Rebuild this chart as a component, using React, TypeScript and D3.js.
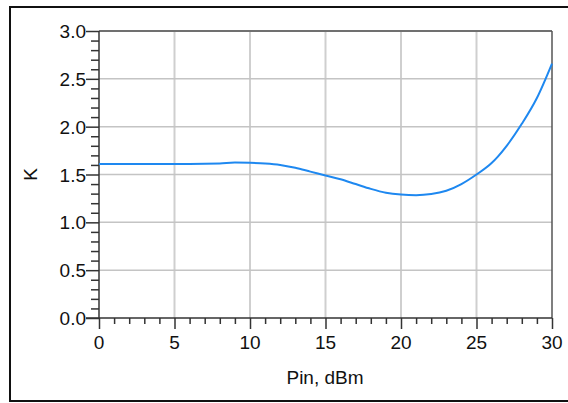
import React, { useEffect, useRef } from 'react';
import * as d3 from 'd3';

// K factor vs input power
const pin = [0, 2, 4, 6, 8, 9, 10, 11, 12, 13, 14, 15, 16, 17, 18, 19, 20, 21, 22, 23, 24, 25, 26, 26.4, 27, 28, 29, 30];
const kValues = [1.61, 1.61, 1.61, 1.61, 1.615, 1.625, 1.622, 1.615, 1.6, 1.57, 1.53, 1.49, 1.45, 1.40, 1.35, 1.31, 1.29, 1.283, 1.295, 1.33, 1.40, 1.50, 1.62, 1.685, 1.80, 2.03, 2.30, 2.66];
const xTicks = [0, 5, 10, 15, 20, 25, 30];
const yTicks = [0, 0.5, 1.0, 1.5, 2.0, 2.5, 3.0];

const App = () => {
  const ref = useRef<SVGSVGElement>(null);

  useEffect(() => {
    const svg = d3.select(ref.current);
    svg.selectAll('*').remove();

    const left = 99, top = 31, right = 552, bottom = 318;
    const font = 'Liberation Sans, Arial, sans-serif';

    // outer frame (right side runs off the picture)
    svg.append('rect')
      .attr('x', 10).attr('y', 7).attr('width', 600).attr('height', 394)
      .attr('fill', 'white').attr('stroke', '#111').attr('stroke-width', 2);

    var x = d3.scaleLinear().domain([0, 30]).range([left, right]);
    var y = d3.scaleLinear().domain([0, 3]).range([bottom, top]);

    const g = svg.append('g');

    // grid
    g.selectAll('.vgrid').data(xTicks.slice(1, -1)).enter().append('line')
      .attr('x1', d => x(d)).attr('x2', d => x(d))
      .attr('y1', top).attr('y2', bottom)
      .attr('stroke', '#cfcfcf').attr('stroke-width', 2);
    g.selectAll('.hgrid').data(yTicks.slice(1, -1)).enter().append('line')
      .attr('x1', left).attr('x2', right)
      .attr('y1', d => y(d)).attr('y2', d => y(d))
      .attr('stroke', '#c4c4c4').attr('stroke-width', 1.5);

    // top and right borders
    g.append('line').attr('x1', left).attr('x2', right).attr('y1', top).attr('y2', top)
      .attr('stroke', '#707070').attr('stroke-width', 2);
    g.append('line').attr('x1', right).attr('x2', right).attr('y1', top).attr('y2', bottom)
      .attr('stroke', '#555').attr('stroke-width', 1.5);

    // y axis
    const yAxis = g.append('g').attr('transform', `translate(${left},0)`)
      .call(d3.axisLeft(y).ticks(30).tickSize(8).tickFormat(() => ''));
    yAxis.select('.domain').remove();
    yAxis.selectAll('line').attr('stroke', '#333').attr('stroke-width', 1.5);
    yAxis.selectAll('.tick').filter((d: any) => Math.abs(d * 2 - Math.round(d * 2)) < 1e-6)
      .select('line').attr('x2', -13);

    g.selectAll('.ylab').data(yTicks).enter().append('text')
      .attr('x', 86).attr('y', d => y(d) + 7)
      .attr('text-anchor', 'end')
      .style('font', `19px ${font}`)
      .attr('fill', '#111')
      .text(d => d.toFixed(1));

    // x axis
    const xAxis = g.append('g').attr('transform', `translate(0,${bottom})`)
      .call(d3.axisBottom(x).ticks(30).tickSize(6).tickFormat(() => ''));
    xAxis.select('.domain').remove();
    xAxis.selectAll('line').attr('stroke', '#333').attr('stroke-width', 1.5);
    xAxis.selectAll('.tick').filter((d: any) => d % 5 === 0)
      .select('line').attr('y2', 11);

    g.selectAll('.xlab').data(xTicks).enter().append('text')
      .attr('x', d => x(d)).attr('y', 349)
      .attr('text-anchor', 'middle')
      .style('font', `19px ${font}`)
      .attr('fill', '#111')
      .text(d => d);

    // axis lines
    g.append('line').attr('x1', left).attr('x2', left).attr('y1', top).attr('y2', bottom)
      .attr('stroke', '#333').attr('stroke-width', 1.5);
    g.append('line').attr('x1', left - 13).attr('x2', right).attr('y1', bottom).attr('y2', bottom)
      .attr('stroke', '#333').attr('stroke-width', 1.5);

    // curve
    const line = d3.line<number>()
      .x((d, i) => x(pin[i]))
      .y(d => y(d))
      .curve(d3.curveMonotoneX);
    g.append('path').datum(kValues)
      .attr('d', line)
      .attr('fill', 'none')
      .attr('stroke', '#1e88f0')
      .attr('stroke-width', 2);

    // axis titles
    g.append('text')
      .attr('x', 325).attr('y', 384)
      .attr('text-anchor', 'middle')
      .style('font', `19px ${font}`)
      .attr('fill', '#111')
      .text('Pin, dBm');

    g.append('text')
      .attr('transform', `translate(37,${(top + bottom) / 2}) rotate(-90)`)
      .attr('text-anchor', 'middle')
      .style('font', `19px ${font}`)
      .attr('fill', '#111')
      .text('K');
  }, []);

  return (
    <svg ref={ref} width={568} height={403} style={{ position: 'absolute', left: 0, top: 0 }} />
  );
};

export default App;
